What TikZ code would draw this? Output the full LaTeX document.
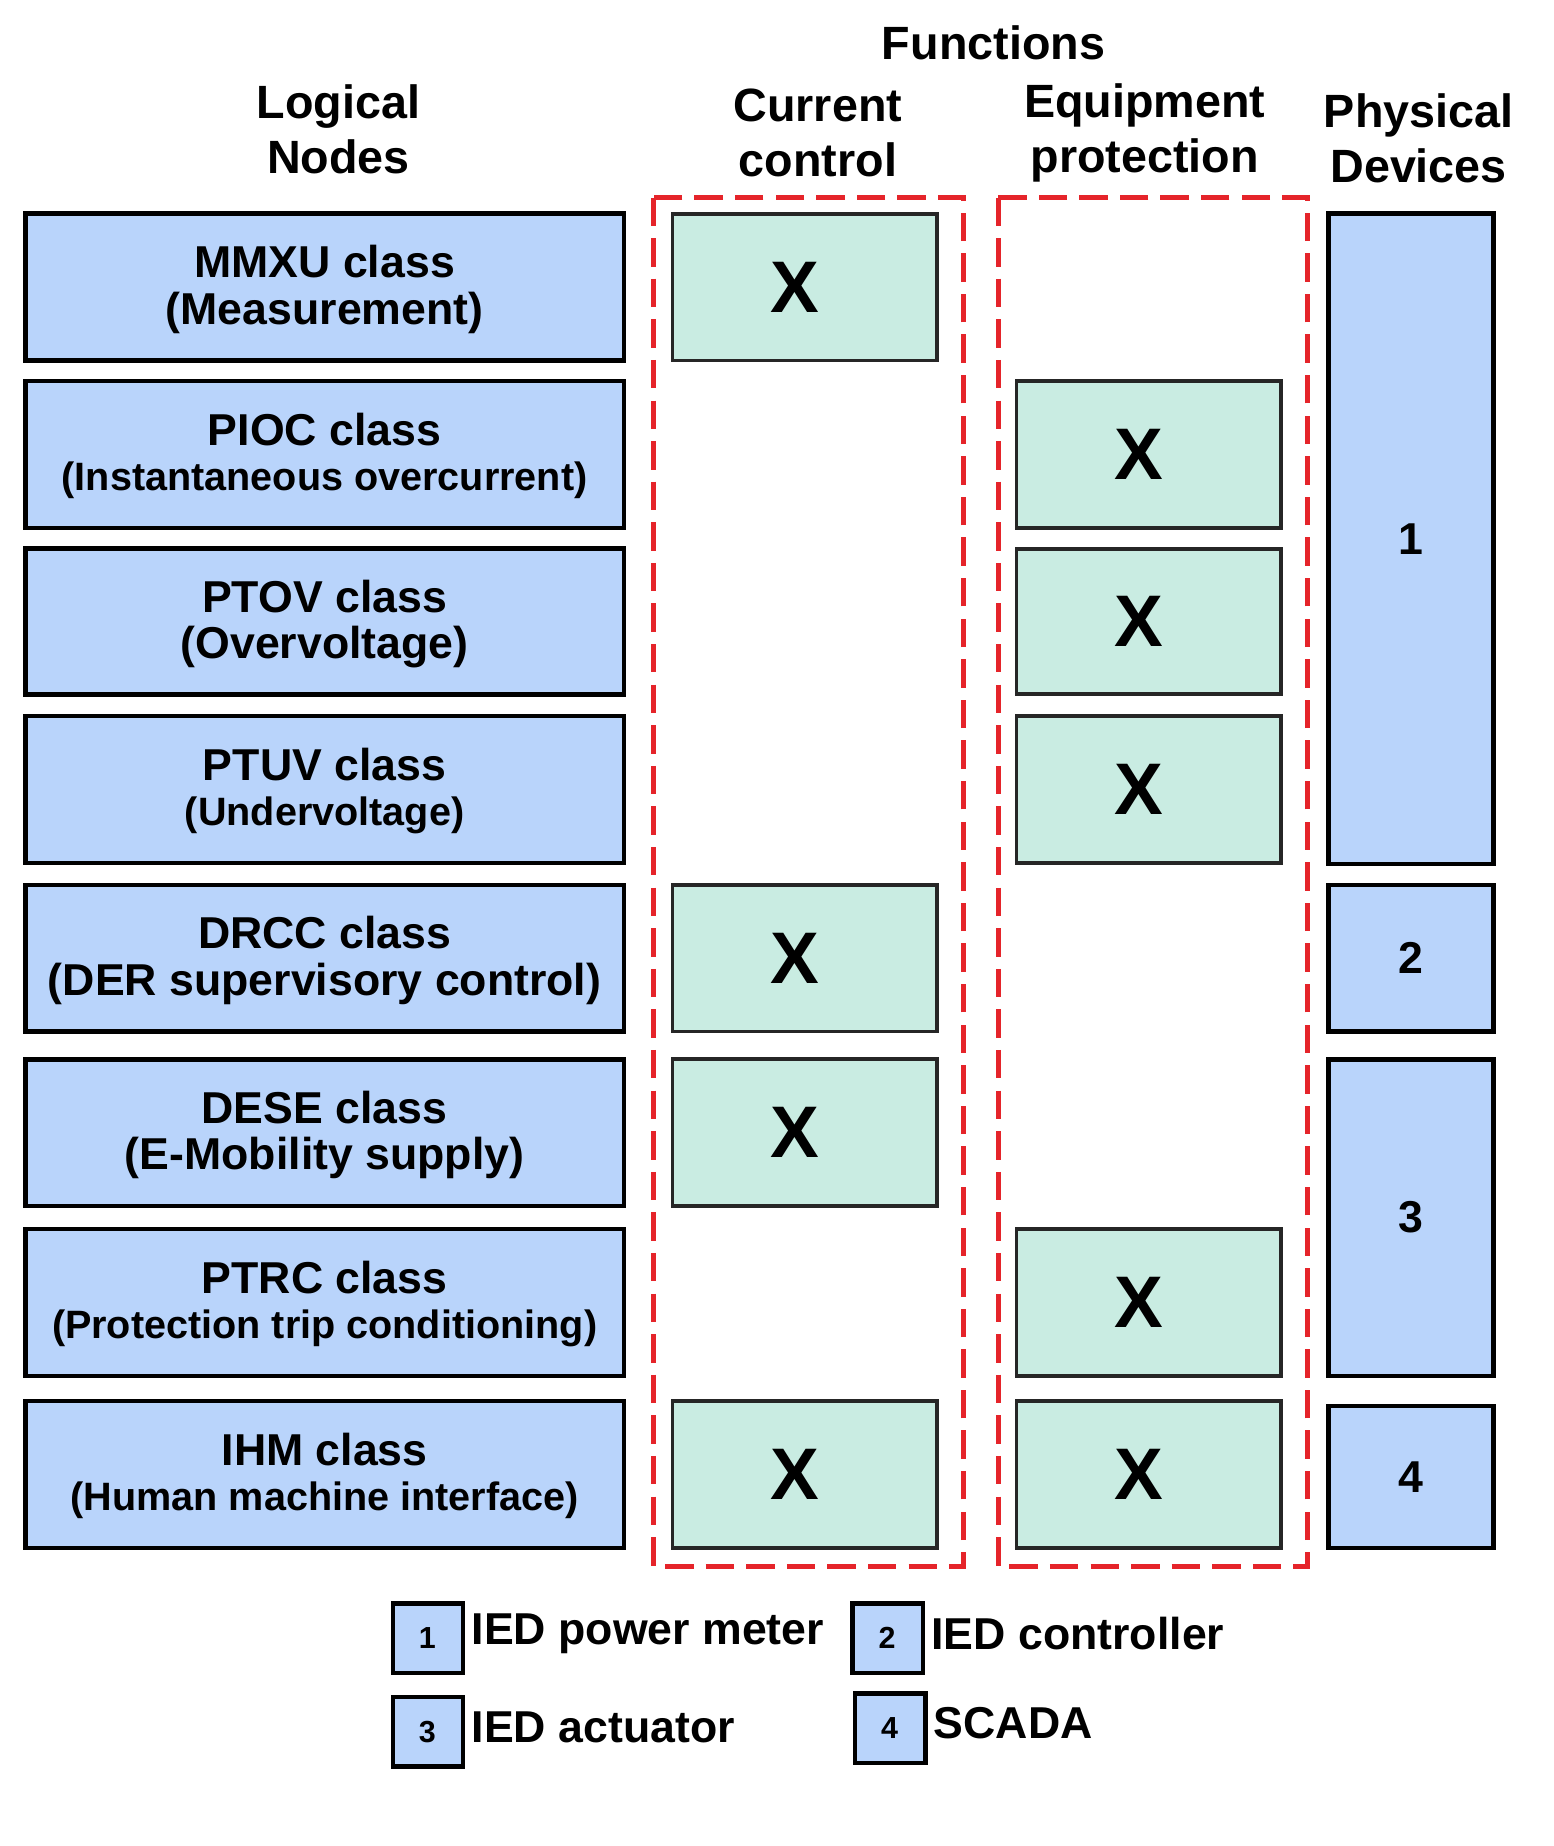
\documentclass[tikz,border=0pt]{standalone}
\usepackage{fontspec}
\setmainfont{Liberation Sans}
\begin{document}
\begin{tikzpicture}[x=0.02cm,y=-0.02cm,
 gx/.style={draw=black!85,line width=1.8pt,fill=gc},
 red/.style={draw=rd,line width=2.4pt,dash pattern=on 14pt off 6pt},
 t1/.style={font=\fontsize{22}{26}\selectfont\bfseries},
 t2/.style={font=\fontsize{19.5}{23}\selectfont\bfseries},
 hd/.style={font=\fontsize{23}{27}\selectfont\bfseries,align=center},
 xx/.style={font=\fontsize{36}{40}\selectfont\bfseries}]
\definecolor{ln}{HTML}{B9D4FB}
\definecolor{gc}{HTML}{C9ECE2}
\definecolor{rd}{HTML}{E5242A}
\tikzset{ln/.style={draw=black,line width=2.2pt,fill=ln}}
\useasboundingbox (0,0) rectangle (1345,1598);
% headers
\node[hd] (hf) at (860,37) {Functions};
\node[hd] (hl) at (293,112) {Logical\\Nodes};
\node[hd] (hc) at (708,115) {Current\\control};
\node[hd] (he) at (991,115) {Equipment\\protection};
\node[hd] (hp) at (1228,120) {Physical\\Devices};
% red groups
\draw[red] (566,171) rectangle (834,1356);
\draw[red] (864,171) rectangle (1132,1356);
% logical nodes
\foreach \ya/\yb/\a/\b/\s/\n in {185/312/MMXU class/(Measurement)/t1/1,
 330/457/PIOC class/(Instantaneous overcurrent)/t2/2,
 475/601/PTOV class/(Overvoltage)/t1/3,
 620/747/PTUV class/(Undervoltage)/t2/4,
 766/893/DRCC class/(DER supervisory control)/t1/5,
 917/1044/DESE class/(E-Mobility supply)/t1/6,
 1064/1191/PTRC class/(Protection trip conditioning)/t2/7,
 1213/1340/IHM class/(Human machine interface)/t2/8}{
 \draw[ln] (22,\ya) rectangle (540,\yb);
 \node[t1] (la\n) at (281,{(\ya+\yb)/2-22}) {\a};
 \node[\s] (lb\n) at (281,{(\ya+\yb)/2+22}) {\b};
}
% X boxes current control
\foreach \ya/\yb/\n in {185/312/1,766/893/5,917/1044/6,1213/1340/8}{
 \draw[gx] (582,\ya) rectangle (811,\yb);
 \node[xx] (cx\n) at (688,{(\ya+\yb)/2}) {X};
}
\foreach \ya/\yb/\n in {330/457/2,475/601/3,620/747/4,1064/1191/7,1213/1340/8}{
 \draw[gx] (880,\ya) rectangle (1109,\yb);
 \node[xx] (ex\n) at (986,{(\ya+\yb)/2}) {X};
}
% physical
\foreach \ya/\yb/\n in {185/748/1,766/893/2,917/1191/3,1217/1340/4}{
 \draw[ln] (1150,\ya) rectangle (1293,\yb);
 \node[t1] (pd\n) at (1221,{(\ya+\yb)/2}) {\n};
}
% legend
\foreach \x/\y/\n/\t in {340/1388/1/IED power meter,738/1388/2/IED controller,340/1469/3/IED actuator,740/1466/4/SCADA}{
 \draw[ln] (\x,\y) rectangle (\x+61,\y+60);
 \node[font=\fontsize{15}{18}\selectfont\bfseries] (lg\n) at (\x+30,\y+30) {\n};
 \node[font=\fontsize{22}{26}\selectfont\bfseries,anchor=west,inner sep=0pt] (lt\n) at (\x+68,\y+26) {\t};
}
\end{tikzpicture}
\end{document}
